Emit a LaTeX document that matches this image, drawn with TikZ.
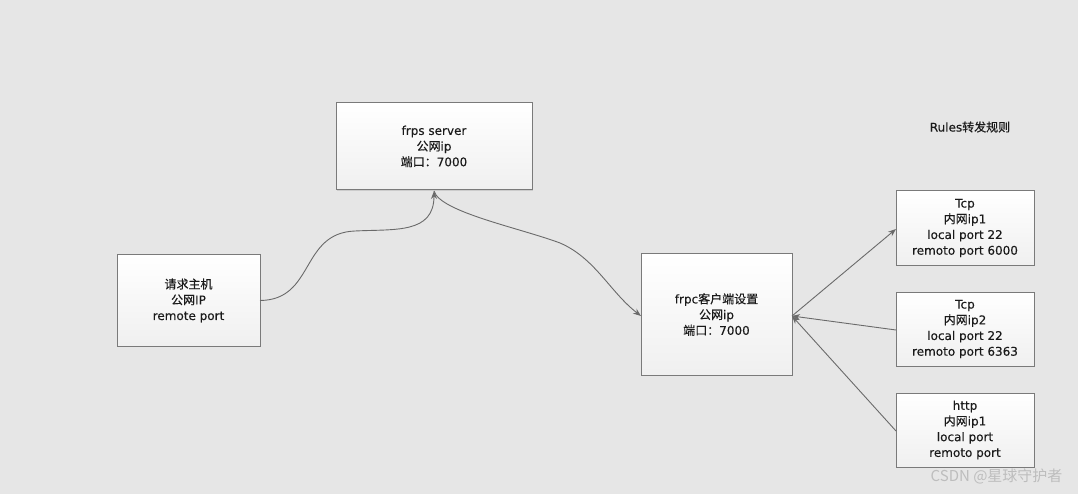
\documentclass[tikz,border=0pt]{standalone}
\usepackage{fontspec}
\setmainfont[FakeBold=0.25]{DejaVu Sans}
\newfontfamily\cjk[FakeBold=0.3]{Noto Sans CJK SC}
\newfontfamily\cjkw{Noto Sans CJK SC}
\usetikzlibrary{arrows.meta,shadows}
\definecolor{bg}{HTML}{E6E6E6}
\definecolor{boxline}{HTML}{7A7A7A}
\definecolor{conn}{HTML}{6A6A6A}
\definecolor{txt}{HTML}{1A1A1A}
\definecolor{wmark}{HTML}{BDBDBD}
\begin{document}
\begin{tikzpicture}[x=1pt,y=-1pt,
  box/.style={draw=boxline,line width=1pt,top color=white,bottom color=black!6,
    rectangle,inner sep=0pt,align=center,text=txt,
    font=\fontsize{12}{15.7}\selectfont,
    drop shadow={shadow xshift=1.2pt,shadow yshift=-1.2pt,opacity=0.25}},
  conn/.style={draw=conn,line width=0.9pt,-{Stealth[length=8pt,width=6pt]}}]
\fill[bg] (0,0) rectangle (1078,494);
\useasboundingbox (0,0) rectangle (1078,494);

\node[box,minimum width=196pt,minimum height=87pt] (frps) at (434,146.5) {frps server\\{\cjk 公网}ip\\{\cjk 端口：}7000};
\node[box,minimum width=143pt,minimum height=91pt] (req) at (188.5,300.5) {{\cjk 请求主机}\\{\cjk 公网}IP\\remote port};
\node[box,minimum width=151pt,minimum height=121pt] (frpc) at (716.5,314.5) {frpc{\cjk 客户端设置}\\{\cjk 公网}ip\\{\cjk 端口：}7000};
\node[box,minimum width=138pt,minimum height=74pt] (t1) at (965,228) {Tcp\\{\cjk 内网}ip1\\local port 22\\remoto port 6000};
\node[box,minimum width=138pt,minimum height=74pt] (t2) at (965,329) {Tcp\\{\cjk 内网}ip2\\local port 22\\remoto port 6363};
\node[box,minimum width=138pt,minimum height=74pt] (t3) at (965,430) {http\\{\cjk 内网}ip1\\local port\\remoto port};

\node[text=txt,font=\fontsize{12}{14}\selectfont] (rules) at (970,127) {Rules{\cjk 转发规则}};
\node[text=wmark,font=\cjkw\fontsize{15}{17}\selectfont,anchor=east] (wm) at (1066,476) {CSDN @星球守护者};

\coordinate (fb) at (434,191);
\coordinate (ql) at (260,300.5);
\coordinate (fl) at (641,316);
\coordinate (fr) at (792,316);
\coordinate (t1l) at (896,229);
\coordinate (t2l) at (896,330);
\coordinate (t3l) at (896,431);

\draw[conn] (ql) .. controls (315,300) and (300,233) .. (355,231)
  .. controls (395,229) and (434,234) .. (fb);
\draw[conn] (fb) .. controls (440,212) and (520,228) .. (560,243)
  .. controls (595,258) and (610,292) .. (fl);
\draw[conn] (fr) -- (t1l);
\draw[conn] (t2l) -- (fr);
\draw[conn] (t3l) -- (fr);
\end{tikzpicture}
\end{document}
